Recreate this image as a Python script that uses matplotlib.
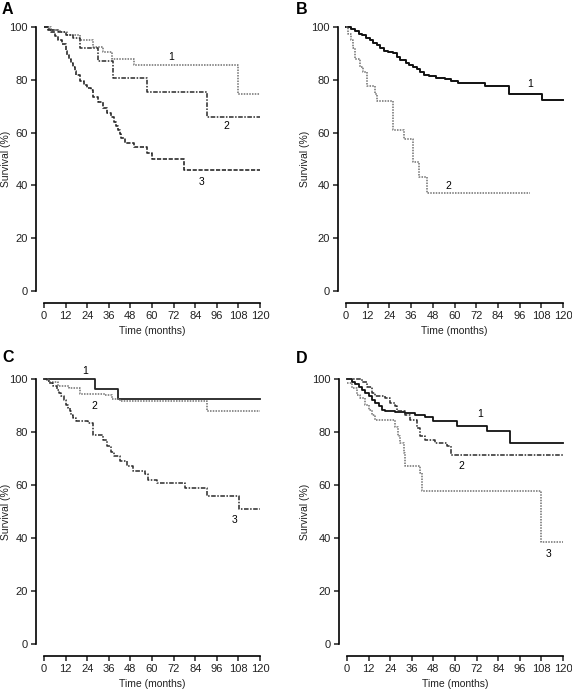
import matplotlib
matplotlib.use("Agg")
import matplotlib.pyplot as plt

# ---------------- data (Kaplan-Meier step curves, months / %) ----------------
# Panel A
a1_t = [0, 4, 9, 13, 20, 27, 33, 38, 50, 108]
a1_s = [100, 99, 98, 97, 95, 92.5, 90.5, 88, 85.5, 74.5]
a2_t = [0, 3, 8, 12, 16, 20, 30, 38.5, 57, 90.5]
a2_s = [100, 99, 98, 97, 96, 92, 87, 80.5, 75.5, 66]
a3_t = [0, 2, 4, 6, 8, 10, 12, 13, 14, 15, 16, 17, 18, 20, 22, 24, 26, 27, 30,
        33, 35, 37, 39, 40, 41, 42, 43, 45, 50, 57, 60, 78]
a3_s = [100, 99, 98, 96.5, 95, 93.5, 91, 89.5, 88, 86.5, 85, 83.5, 82, 79.5, 78,
        77, 76, 73.5, 71.5, 69.5, 67.5, 66, 64, 62.5, 61, 59.5, 58, 56.2, 54.5,
        52.2, 50, 46]
# Panel B
b1_t = [0, 3, 5, 7, 9, 11, 13, 15, 17, 19, 21, 23, 26, 28, 30, 33, 35, 37, 39,
        41, 43, 46, 50, 55, 58, 62, 77, 90, 108.5]
b1_s = [100, 99.3, 98.5, 97.5, 96.8, 96, 95, 94, 93, 92, 91, 90.5, 90, 88.5,
        87.5, 86.5, 85.7, 85, 84, 83, 82, 81.5, 80.8, 80.2, 79.6, 78.8, 77.7,
        74.8, 72.3]
b2_t = [0, 1.3, 3, 4, 5, 7.8, 9.6, 11.4, 16, 17, 26.2, 31.8, 37.3, 40.6, 44.7]
b2_s = [100, 97.5, 95, 92, 88, 85, 83, 77.5, 74.5, 72, 61, 57.5, 49, 43, 37]
# Panel C
c1_t = [0, 28.2, 41.2]
c1_s = [100, 96.2, 92.6]
c2_t = [0, 3, 8, 14, 20, 34, 38, 42, 90.7]
c2_s = [100, 99, 97.5, 96.5, 94.5, 93.8, 92.5, 91.8, 88.1]
c3_t = [0, 1.5, 3, 5, 7, 8.5, 9.6, 11, 12.4, 13.4, 14.3, 15.2, 16.1, 18, 24.5,
        27, 33, 35, 37, 39, 42, 46, 49.5, 56, 58, 62.5, 78.3, 90.4, 108.5]
c3_s = [100, 99.3, 98.5, 97.2, 96, 94.7, 93.5, 92, 90.3, 89, 87.8, 86.5, 85.3,
        84.3, 83.4, 79, 77.1, 74.6, 72.5, 70.8, 69, 67, 65.2, 64, 62, 60.8,
        58.9, 56, 51]
# Panel D
d1_t = [0, 2.8, 4.5, 6.5, 8.5, 10, 12, 13.8, 15.5, 17.5, 19.4, 21, 26.8, 32,
        38, 43.4, 48, 61, 77.5, 90.4]
d1_s = [100, 99, 98, 97, 96, 94.7, 93.5, 92.2, 91, 89.7, 88.4, 88, 87.7, 87,
        86.5, 85.6, 84.3, 82.4, 80.5, 75.8]
d2_t = [0, 5.5, 8.3, 11, 13.8, 15.7, 21, 24, 26.8, 27.7, 32.3, 35, 38.8, 40.6,
        43.4, 49, 55.4, 57.6]
d2_s = [100, 100, 99, 97, 94.7, 93.5, 92.9, 91, 89.7, 87.8, 86.5, 84.6, 81.5,
        78.4, 77.1, 75.8, 74.6, 71.4]
d3_t = [0, 2.8, 5.5, 7.4, 10, 12, 14, 15.7, 25.8, 26.8, 28.6, 29.5, 31.4, 32.3,
        39.7, 40.6, 41.9, 108]
d3_s = [98.5, 96.6, 94, 92.9, 90.3, 88.4, 86.5, 84.7, 84.7, 82, 78.4, 75.8,
        72, 67, 67, 64.5, 57.6, 38.4]

x_ticks = [0, 12, 24, 36, 48, 60, 72, 84, 96, 108, 120]
y_ticks = [0, 20, 40, 60, 80, 100]

# ---------------- styles ----------------
DOT = (0, (1, 0.8))
DASHDOT = (0, (3, 1, 1, 1))
DASH = (0, (2.5, 1))

W, H = 572, 690
plt.rcParams['font.family'] = ['Liberation Sans', 'DejaVu Sans']
fig = plt.figure(figsize=(W / 100, H / 100), dpi=100)


def make_ax(x0, x120, y100, y0, ylab_x):
    ax = fig.add_axes([x0 / W, 1 - y0 / H, (x120 - x0) / W, (y0 - y100) / H])
    ax.set_xlim(0, 120)
    ax.set_ylim(0, 100)
    ax.spines['top'].set_visible(False)
    ax.spines['right'].set_visible(False)
    ax.spines['left'].set_position(('outward', 8 * 0.72))
    ax.spines['bottom'].set_position(('outward', 12 * 0.72))
    for s in ('left', 'bottom'):
        ax.spines[s].set_linewidth(1.2)
    ax.set_xticks(x_ticks)
    ax.set_yticks(y_ticks)
    ax.tick_params(direction='out', length=3.5, width=1.1, labelsize=8,
                   pad=2.5, colors='#222222')
    ax.set_xlabel('Time (months)', fontsize=7.5, labelpad=3.5, color='#222222')
    ax.set_ylabel('Survival (%)', fontsize=7.5, color='#222222')
    ax.yaxis.set_label_coords((ylab_x - x0) / (x120 - x0), 0.5)
    ax.patch.set_alpha(0)
    return ax


def km(ax, t, s, ls, color, lw=1.1, end=120):
    tt = list(t) + [end]
    ss = list(s) + [s[-1]]
    ax.step(tt, ss, where='post', linestyle=ls, color=color, lw=lw,
            clip_on=False)


LIGHT = '#707070'
DARK = '#2a2a2a'
FS = 7.5

# Panel A
axA = make_ax(44, 260, 27, 291, 11)
km(axA, a1_t, a1_s, DOT, LIGHT)
km(axA, a2_t, a2_s, DASHDOT, DARK)
km(axA, a3_t, a3_s, DASH, DARK, lw=1.2)
axA.text(70.9, 88.6, '1', fontsize=FS, ha='center', va='center')
axA.text(101.5, 62.4, '2', fontsize=FS, ha='center', va='center')
axA.text(87.6, 41.4, '3', fontsize=FS, ha='center', va='center')

# Panel B
axB = make_ax(346, 563, 27, 291, 310)
km(axB, b1_t, b1_s, '-', '#111111', lw=1.4)
km(axB, b2_t, b2_s, DOT, LIGHT, end=101.5)
axB.text(101.9, 78.3, '1', fontsize=FS, ha='center', va='center')
axB.text(56.7, 39.8, '2', fontsize=FS, ha='center', va='center')

# Panel C
axC = make_ax(44, 260, 379, 644, 11)
km(axC, c1_t, c1_s, '-', '#222222', lw=1.3)
km(axC, c2_t, c2_s, DOT, LIGHT)
km(axC, c3_t, c3_s, DASHDOT, DARK)
axC.text(22.6, 102.9, '1', fontsize=FS, ha='center', va='center')
axC.text(28.2, 89.7, '2', fontsize=FS, ha='center', va='center')
axC.text(106.1, 46.9, '3', fontsize=FS, ha='center', va='center')

# Panel D
axD = make_ax(347, 563, 379, 644, 310)
km(axD, d1_t, d1_s, '-', '#111111', lw=1.3)
km(axD, d2_t, d2_s, DASHDOT, DARK)
km(axD, d3_t, d3_s, DOT, LIGHT)
axD.text(74.2, 86.8, '1', fontsize=FS, ha='center', va='center')
axD.text(63.3, 67.3, '2', fontsize=FS, ha='center', va='center')
axD.text(111.7, 34.1, '3', fontsize=FS, ha='center', va='center')

# panel letters
for lbl, (px, py) in zip('ABCD', [(2, 9), (296, 9), (2, 357), (296, 359)]):
    fig.text(px / W, 1 - py / H, lbl, fontsize=11.5, fontweight='bold',
             ha='left', va='center')

fig.savefig('out.png', dpi=100)
